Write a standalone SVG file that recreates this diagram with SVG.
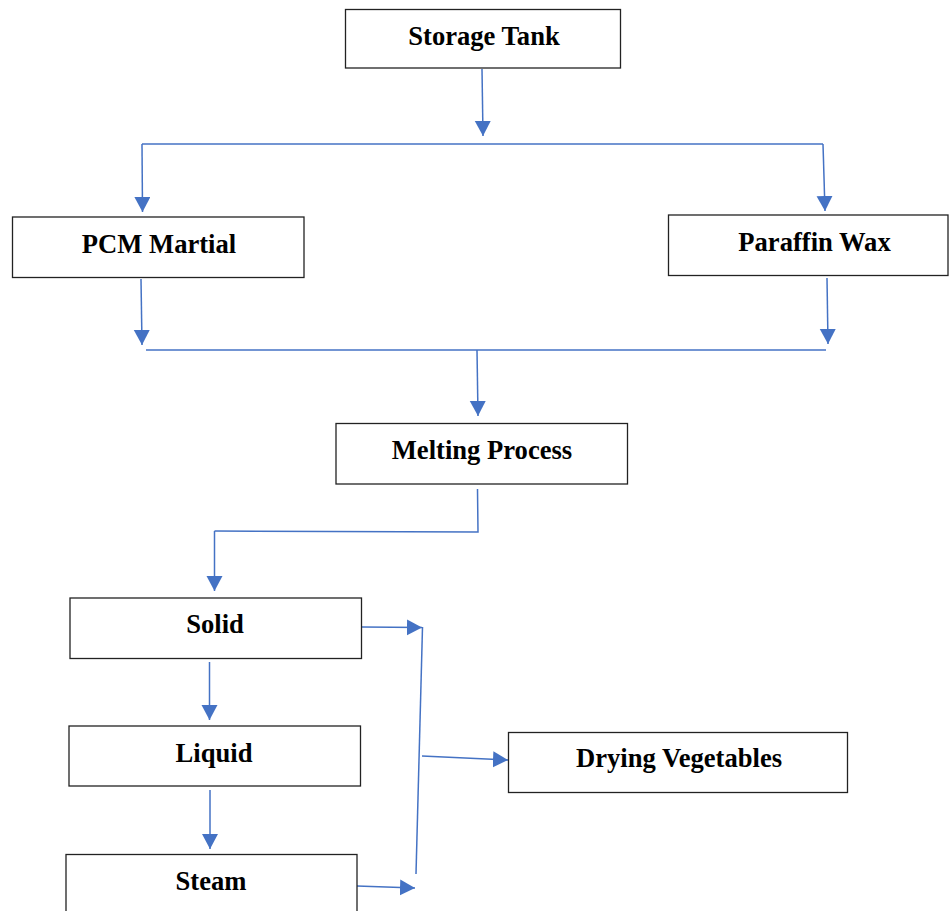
<svg xmlns="http://www.w3.org/2000/svg" width="949" height="911" viewBox="0 0 949 911">
<style>
.box{fill:#fff;stroke:#222;stroke-width:1.3}
.lbl{font-family:"Liberation Serif","Times New Roman",serif;font-weight:bold;font-size:26.6px;fill:#000;text-anchor:middle}
.cn{fill:none;stroke:#4472C4;stroke-width:1.5}
</style>
<defs>
<marker id="ah" markerUnits="userSpaceOnUse" markerWidth="17" markerHeight="17" refX="15" refY="8" orient="auto">
<path d="M0,0 L15,8 L0,16 z" fill="#4472C4"/>
</marker>
</defs>
<rect width="949" height="911" fill="#fff"/>
<g id="connectors">
<line class="cn" x1="482" y1="69" x2="483" y2="136" marker-end="url(#ah)"/>
<line class="cn" x1="142" y1="144" x2="823" y2="144"/>
<line class="cn" x1="142" y1="144" x2="142.5" y2="212" marker-end="url(#ah)"/>
<line class="cn" x1="823" y1="144" x2="825" y2="211" marker-end="url(#ah)"/>
<line class="cn" x1="141" y1="279" x2="142" y2="345" marker-end="url(#ah)"/>
<line class="cn" x1="827" y1="278" x2="828" y2="344" marker-end="url(#ah)"/>
<line class="cn" x1="146" y1="350" x2="826" y2="350"/>
<line class="cn" x1="477" y1="350" x2="478" y2="416" marker-end="url(#ah)"/>
<polyline class="cn" points="477.5,489 478,532 214.5,531"/>
<line class="cn" x1="214.5" y1="531" x2="214.5" y2="591" marker-end="url(#ah)"/>
<line class="cn" x1="362" y1="627" x2="422" y2="627.5" marker-end="url(#ah)"/>
<line class="cn" x1="422.5" y1="627" x2="416" y2="874"/>
<line class="cn" x1="422" y1="756" x2="508" y2="760" marker-end="url(#ah)"/>
<line class="cn" x1="209.5" y1="662" x2="209.5" y2="720" marker-end="url(#ah)"/>
<line class="cn" x1="210" y1="790" x2="210" y2="849" marker-end="url(#ah)"/>
<line class="cn" x1="357" y1="886" x2="415" y2="888" marker-end="url(#ah)"/>
</g>
<g id="storage-tank"><rect class="box" x="345.5" y="9.5" width="275" height="58.5"/><text class="lbl" x="484" y="45">Storage Tank</text></g>
<g id="pcm-martial"><rect class="box" x="12.5" y="217" width="291.5" height="60.5"/><text class="lbl" x="159" y="253">PCM Martial</text></g>
<g id="paraffin-wax"><rect class="box" x="668.5" y="215" width="279.5" height="60.5"/><text class="lbl" x="814.5" y="251">Paraffin Wax</text></g>
<g id="melting-process"><rect class="box" x="336" y="423.5" width="291.5" height="60.5"/><text class="lbl" x="482" y="459">Melting Process</text></g>
<g id="solid"><rect class="box" x="70" y="598" width="291.5" height="60.5"/><text class="lbl" x="215" y="633">Solid</text></g>
<g id="liquid"><rect class="box" x="69" y="726" width="291.5" height="60"/><text class="lbl" x="214" y="762">Liquid</text></g>
<g id="steam"><rect class="box" x="66" y="854.5" width="291" height="70"/><text class="lbl" x="211" y="890">Steam</text></g>
<g id="drying-vegetables"><rect class="box" x="508.5" y="732.5" width="339" height="60"/><text class="lbl" x="679" y="767">Drying Vegetables</text></g>
</svg>
